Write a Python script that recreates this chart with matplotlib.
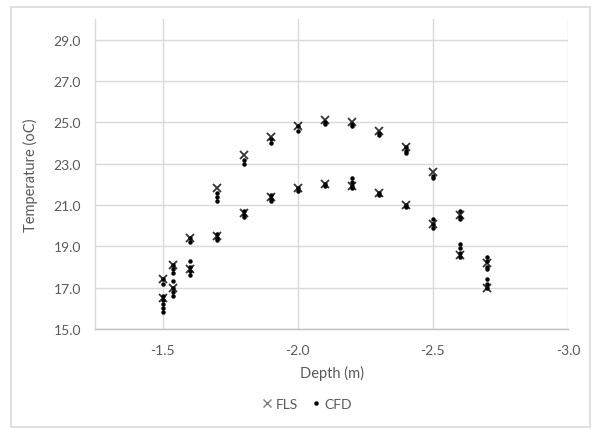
import matplotlib
matplotlib.use("Agg")
import matplotlib.pyplot as plt
from matplotlib.patches import Rectangle

plt.rcParams['font.family'] = ['Lato', 'DejaVu Sans']

# Depth stations (m)
depths = [-1.5, -1.54, -1.6, -1.7, -1.8, -1.9, -2.0, -2.1, -2.2, -2.3, -2.4, -2.5, -2.6, -2.7]

# FLS temperatures (oC), two profiles
fls_upper = [17.4, 18.1, 19.4, 21.8, 23.4, 24.3, 24.8, 25.1, 25.0, 24.6, 23.8, 22.6, 20.5, 18.2]
fls_lower = [16.5, 17.0, 17.9, 19.5, 20.6, 21.4, 21.8, 22.0, 21.9, 21.6, 21.0, 20.1, 18.6, 17.0]

# CFD temperatures (oC), several samples per depth
cfd_upper = [
    [17.4, 17.2],
    [18.1, 17.9, 17.7],
    [19.4, 19.2],
    [21.6, 21.4, 21.2],
    [23.2, 23.0],
    [24.2, 24.0],
    [24.8, 24.6],
    [25.0, 24.9],
    [24.9, 24.8],
    [24.5, 24.4],
    [23.8, 23.6, 23.5],
    [22.4, 22.3],
    [20.7, 20.4, 20.3],
    [18.5, 18.3, 18.0, 17.9],
]
cfd_lower = [
    [16.6, 16.4, 16.2, 16.0, 15.8],
    [17.3, 17.0, 16.8, 16.6],
    [18.3, 18.0, 17.8, 17.6],
    [19.6, 19.4, 19.3],
    [20.7, 20.5, 20.4],
    [21.5, 21.3, 21.2],
    [21.8, 21.7],
    [22.0, 21.9],
    [22.3, 22.1, 21.9, 21.8],
    [21.6, 21.5],
    [21.0, 20.9],
    [20.3, 20.1, 19.9],
    [19.1, 18.9, 18.7, 18.5],
    [17.4, 17.2, 17.0],
]

y_ticks = [15.0, 17.0, 19.0, 21.0, 23.0, 25.0, 27.0, 29.0]
x_ticks = [-1.5, -2.0, -2.5, -3.0]

text_col = '#595959'
grid_col = '#d9d9d9'

fig = plt.figure(figsize=(5.92, 4.31), dpi=100)
fig.patches.append(Rectangle((11 / 592, 3 / 431), 579 / 592, 420 / 431,
                             transform=fig.transFigure, fill=False,
                             edgecolor='#d9d9d9', linewidth=1.2))

ax = fig.add_axes([95 / 592, 1 - 330 / 431, 473 / 592, 310 / 431])

fls_x = depths + depths
fls_y = fls_upper + fls_lower
ax.plot(fls_x, fls_y, linestyle='none', marker='x', markersize=6,
        markeredgewidth=1.3, color='#333333', label='FLS', zorder=3)

cfd_x, cfd_y = [], []
for d, vals in zip(depths, cfd_upper):
    cfd_x += [d] * len(vals)
    cfd_y += vals
for d, vals in zip(depths, cfd_lower):
    cfd_x += [d] * len(vals)
    cfd_y += vals
ax.plot(cfd_x, cfd_y, linestyle='none', marker='o', markersize=2.2,
        color='black', label='CFD', zorder=4)

ax.set_xlim(-1.25, -3.0)
ax.set_ylim(15, 30)
ax.set_yticks(y_ticks)
ax.set_yticklabels([f"{v:.1f}" for v in y_ticks])
ax.set_xticks(x_ticks)
ax.set_xticklabels([f"{v:.1f}" for v in x_ticks])

ax.grid(True, color=grid_col, linewidth=1.0)
ax.set_axisbelow(True)
for side in ['top', 'right']:
    ax.spines[side].set_visible(False)
ax.spines['left'].set_color(grid_col)
ax.spines['left'].set_linewidth(1.0)
ax.spines['bottom'].set_color('#bfbfbf')
ax.spines['bottom'].set_linewidth(1.0)
ax.tick_params(axis='both', length=0, labelsize=10, labelcolor=text_col)
ax.tick_params(axis='y', pad=10)
ax.tick_params(axis='x', pad=11)

ax.set_xlabel('Depth (m)', fontsize=10.5, color=text_col, labelpad=6)
ax.set_ylabel('Temperature (oC)', fontsize=10.5, color=text_col, labelpad=11)

leg = fig.legend(loc='center', bbox_to_anchor=(306 / 592, 1 - 405 / 431),
                 ncol=2, frameon=False, fontsize=10, handletextpad=0.1,
                 columnspacing=0.8, handlelength=1.0, markerscale=1.0)
for t in leg.get_texts():
    t.set_color(text_col)
leg.legend_handles[0].set_color('#7f7f7f')
leg.legend_handles[0].set_markeredgewidth(1.0)

fig.savefig('out.png', dpi=100)
